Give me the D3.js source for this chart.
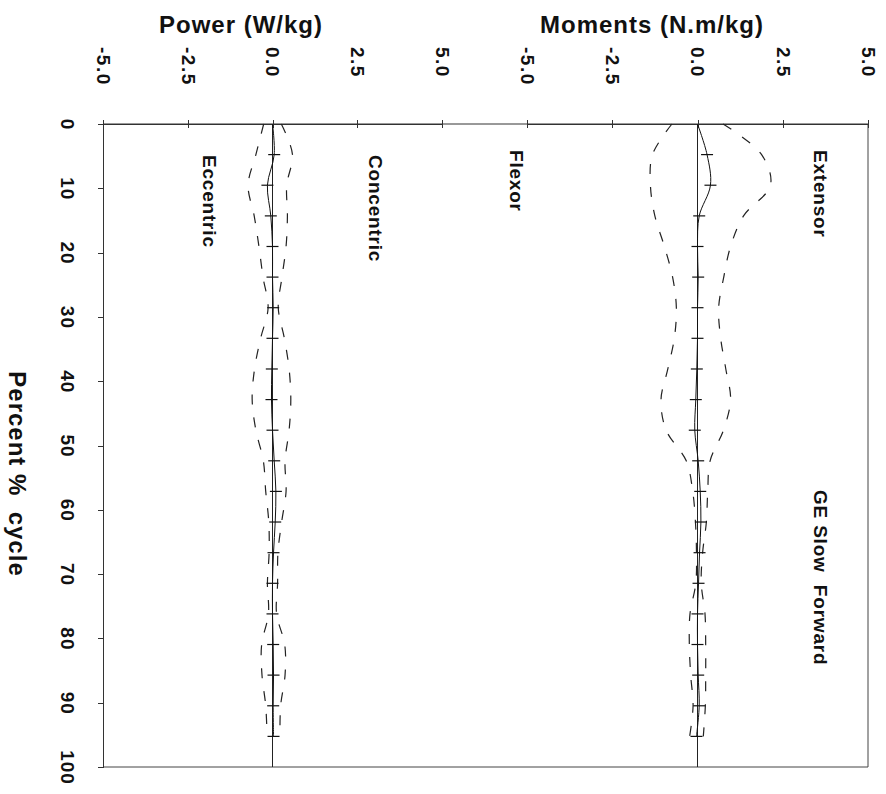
<!DOCTYPE html>
<html lang="en">
<head>
  <meta charset="utf-8">
  <title>GE Slow Forward</title>
  <script src="https://d3js.org/d3.v7.min.js"></script>
  <style type="text/css">
  body { margin: 0; background: #fff; }
  text { font-family: "Liberation Sans", Arial, sans-serif; font-weight: bold; fill: #111; }
  .axis path, .axis line { stroke: #333; stroke-width: 1; shape-rendering: crispEdges; }
  </style>
</head>
<body>
<div id="chart"></div>
<script type="text/javascript">

// percent of cycle at each sample (21 samples, about 4.76% apart)
var pct = [0, 4.76, 9.52, 14.29, 19.05, 23.81, 28.57, 33.33, 38.1, 42.86, 47.62,
           52.38, 57.14, 61.9, 66.67, 71.43, 76.19, 80.95, 85.71, 90.48, 95.24];

// power (W/kg): mean and standard deviation
var powerMean = [0, 0.05, -0.15, -0.05, 0, 0, 0.02, 0, -0.02, -0.03, 0,
                 0.05, 0.1, 0.08, 0.03, 0, 0, 0.02, 0.03, 0.02, 0.03];
var powerSD = [0.26, 0.54, 0.57, 0.49, 0.4, 0.28, 0.15, 0.35, 0.51, 0.57, 0.49,
               0.32, 0.3, 0.19, 0.13, 0.15, 0.12, 0.34, 0.34, 0.22, 0.19];

// moments (N.m/kg): mean and standard deviation
var momentMean = [0, 0.28, 0.38, 0.05, 0, 0.02, 0, 0, -0.02, -0.05, -0.08,
                  0.02, 0.08, 0.1, 0.06, 0.03, 0, 0, 0.02, 0.05, -0.03];
var momentSD = [0.75, 1.6, 1.76, 1.3, 0.97, 0.75, 0.62, 0.68, 0.85, 1.02, 0.84,
                0.35, 0.22, 0.16, 0.09, 0.08, 0.22, 0.24, 0.22, 0.18, 0.2];

var valueTicks = [-5, -2.5, 0, 2.5, 5];
var pctTicks = [0, 10, 20, 30, 40, 50, 60, 70, 80, 90, 100];

var width = 886;
var height = 794;

var svg = d3.select("#chart")
  .append("svg")
  .attr("width", width)
  .attr("height", height);

// vertical: percent of cycle, top to bottom
var y = d3.scaleLinear().domain([0, 100]).range([124, 767]);

// horizontal: two panels side by side
var xPower = d3.scaleLinear().domain([-5, 5]).range([103, 442]);
var xMoment = d3.scaleLinear().domain([-5, 5]).range([527, 868]);

var xLeft = 103, xRight = 868, yTop = y(0), yBot = y(100);

// frame
svg.append("line").attr("x1", xRight).attr("x2", xRight).attr("y1", yTop).attr("y2", yBot)
  .style("stroke", "#444").style("stroke-width", 1);
svg.append("line").attr("x1", xLeft).attr("x2", xRight).attr("y1", yBot).attr("y2", yBot)
  .style("stroke", "#444").style("stroke-width", 1);

// zero lines
[xPower(0), xMoment(0)].forEach(function(x0) {
  svg.append("line").attr("x1", x0).attr("x2", x0).attr("y1", yTop).attr("y2", yBot)
    .style("stroke", "#222").style("stroke-width", 1);
});

// top axes, ticks cross the line
function topAxis(scale) {
  var g = svg.append("g")
    .attr("class", "axis")
    .attr("transform", "translate(0," + yTop + ")")
    .call(d3.axisTop(scale).tickValues(valueTicks).tickSize(4)
      .tickFormat(function(d) { return d.toFixed(1); }));
  g.selectAll(".tick line").attr("y2", 4).attr("y1", -4);
  g.selectAll(".tick text")
    .attr("transform", "translate(0,-77) rotate(90)")
    .attr("x", 0).attr("y", 0).attr("dy", "0.35em")
    .style("text-anchor", "start")
    .style("font-size", "19px")
    .style("letter-spacing", "1.5px");
  return g;
}
topAxis(xPower);
topAxis(xMoment);
// join the two top axes into one line
svg.append("line").attr("x1", xLeft).attr("x2", xRight).attr("y1", yTop).attr("y2", yTop)
  .style("stroke", "#333").style("stroke-width", 1);

// left axis
var ga = svg.append("g")
  .attr("class", "axis")
  .attr("transform", "translate(" + xLeft + ",0)")
  .call(d3.axisLeft(y).tickValues(pctTicks).tickSize(5));
ga.selectAll(".tick text")
  .attr("transform", "translate(-35,0) rotate(90)")
  .attr("x", 0).attr("y", 0).attr("dy", "0.35em")
  .style("text-anchor", "middle")
  .style("font-size", "19px")
  .style("letter-spacing", "1px");

// titles
svg.append("text").attr("x", 241).attr("y", 33).style("text-anchor", "middle")
  .style("font-size", "24px").style("letter-spacing", "1px").text("Power (W/kg)");
svg.append("text").attr("x", 652).attr("y", 33).style("text-anchor", "middle")
  .style("font-size", "24px").style("letter-spacing", "1px").text("Moments (N.m/kg)");

svg.append("text")
  .attr("transform", "translate(17,474) rotate(90)")
  .attr("dy", "0.35em")
  .style("text-anchor", "middle")
  .style("font-size", "24px").style("letter-spacing", "1px")
  .style("white-space", "pre")
  .text("Percent %  cycle");

// labels inside the panels
var labels = [
  {t: "Extensor", x: 821, y: 150},
  {t: "Flexor", x: 517, y: 150},
  {t: "Concentric", x: 376, y: 155},
  {t: "Eccentric", x: 210, y: 155},
  {t: "GE Slow  Forward", x: 821, y: 490}
];
labels.forEach(function(l) {
  svg.append("text")
    .attr("transform", "translate(" + l.x + "," + l.y + ") rotate(90)")
    .attr("dy", "0.35em")
    .style("text-anchor", "start")
    .style("font-size", "19px").style("letter-spacing", "0.8px")
    .style("white-space", "pre")
    .text(l.t);
});

// one panel: mean line, +/- SD dashed, cross markers
function drawSeries(xs, mean, sd) {
  var rows = pct.map(function(p, i) { return {p: p, m: mean[i], s: sd[i]}; });

  function band(sign) {
    return d3.line()
      .x(function(d) { return xs(d.m + sign * d.s); })
      .y(function(d) { return y(d.p); })
      .curve(d3.curveCatmullRom);
  }
  [-1, 1].forEach(function(sign) {
    svg.append("path")
      .datum(rows)
      .attr("d", band(sign))
      .style("fill", "none")
      .style("stroke", "#222")
      .style("stroke-width", 1.2)
      .style("stroke-dasharray", "10,13");
  });

  svg.append("path")
    .datum(rows)
    .attr("d", band(0))
    .style("fill", "none")
    .style("stroke", "#111")
    .style("stroke-width", 1);

  svg.selectAll(null)
    .data(rows.slice(1))
    .enter()
    .append("line")
    .attr("x1", function(d) { return xs(d.m) - 6; })
    .attr("x2", function(d) { return xs(d.m) + 6; })
    .attr("y1", function(d) { return y(d.p); })
    .attr("y2", function(d) { return y(d.p); })
    .style("stroke", "#111")
    .style("stroke-width", 1.2);
}

drawSeries(xPower, powerMean, powerSD);
drawSeries(xMoment, momentMean, momentSD);

</script>
</body>
</html>
